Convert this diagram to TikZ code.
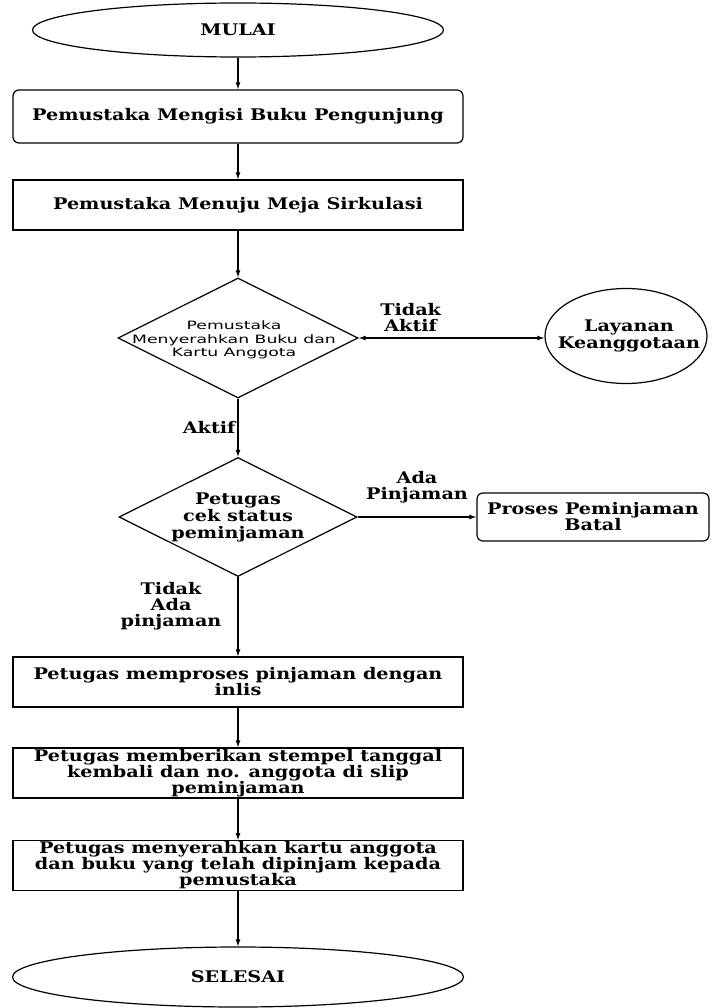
\documentclass[tikz,border=0pt]{standalone}
\usepackage{fontspec}
\setmainfont{DejaVu Serif}[FakeStretch=1.2]
\newfontfamily\diafont{DejaVu Sans}[FakeStretch=1.5]
\usetikzlibrary{positioning}
\usetikzlibrary{shapes.geometric}
\usetikzlibrary{arrows.meta}
\newcommand{\flowfont}{\fontsize{16}{16}\selectfont\bfseries}
\tikzset{
  base/.style={draw, line width=1.2pt, font=\flowfont, align=center, inner sep=1pt},
  terminal/.style={base, ellipse},
  process/.style={base, rectangle, minimum width=450pt, minimum height=50pt},
  roundproc/.style={process, rounded corners=6pt},
  decision/.style={draw, line width=1.2pt, diamond, minimum width=240pt, minimum height=120pt, inner sep=0pt},
  diatext/.style={font=\diafont\fontsize{11.5}{13.5}\selectfont, align=center, inner sep=0pt},
  lbl/.style={font=\flowfont, align=center, inner sep=2pt},
  arrow/.style={-{Latex[length=7pt,width=5pt]}, line width=1.1pt},
  dblarrow/.style={{Latex[length=7pt,width=5pt]}-{Latex[length=7pt,width=5pt]}, line width=1.1pt}
}
\begin{document}
\begin{tikzpicture}[x=1pt, y=-1pt]
\def\colx{238}
\fill[white] (0,0) rectangle (713,1008);
\node[terminal, minimum width=411pt, minimum height=54pt] (mulai) at (\colx,30) {MULAI};
\node[roundproc, minimum height=53pt] (isi) at (\colx,116.5) {Pemustaka Mengisi Buku Pengunjung};
\node[process] (meja) at (\colx,205) {Pemustaka Menuju Meja Sirkulasi};
\node[decision, label={[diatext, xshift=-4pt, yshift=-2pt]center:{Pemustaka\\Menyerahkan Buku dan\\Kartu Anggota}}] (serah) at (\colx,338) {};
\node[terminal, minimum width=162pt, minimum height=95pt,
  label={[lbl, font=\fontsize{16}{17}\selectfont\bfseries, xshift=3pt]center:{Layanan\\Keanggotaan}}] (layanan) at (626,336) {};
\node[decision, minimum width=238pt, minimum height=119pt,
  label={[lbl, font=\fontsize{16}{17}\selectfont\bfseries]center:{Petugas\\cek status\\peminjaman}}] (cek) at (\colx,517) {};
\node[roundproc, minimum width=232pt, minimum height=48pt] (batal) at (593,517) {Proses Peminjaman\\Batal};
\node[process] (proses) at (\colx,682) {Petugas memproses pinjaman dengan\\inlis};
\node[process] (stempel) at (\colx,773) {Petugas memberikan stempel tanggal\\kembali dan no. anggota di slip\\peminjaman};
\node[process, minimum height=49pt] (kembali) at (\colx,865.5) {Petugas menyerahkan kartu anggota\\dan buku yang telah dipinjam kepada\\pemustaka};
\node[terminal, minimum width=451pt, minimum height=60pt] (selesai) at (\colx,977) {SELESAI};

\draw[arrow] (mulai) -- (isi);
\draw[arrow] (isi) -- (meja);
\draw[arrow] (meja) -- (serah);
\draw[dblarrow] (serah.east) -- node[lbl, pos=0.28, above=4pt] {Tidak\\Aktif} (serah.east -| layanan.west);
\draw[arrow] (serah) -- node[lbl, left] {Aktif} (cek);
\draw[arrow] (cek.east) -- node[lbl, above=11pt] {Ada\\Pinjaman} (batal.west);
\draw[arrow] (cek) -- node[lbl, pos=0.37, left=14pt] {Tidak\\Ada\\pinjaman} (proses);
\draw[arrow] (proses) -- (stempel);
\draw[arrow] (stempel) -- (kembali);
\draw[arrow] (kembali) -- (selesai);
\end{tikzpicture}
\end{document}
